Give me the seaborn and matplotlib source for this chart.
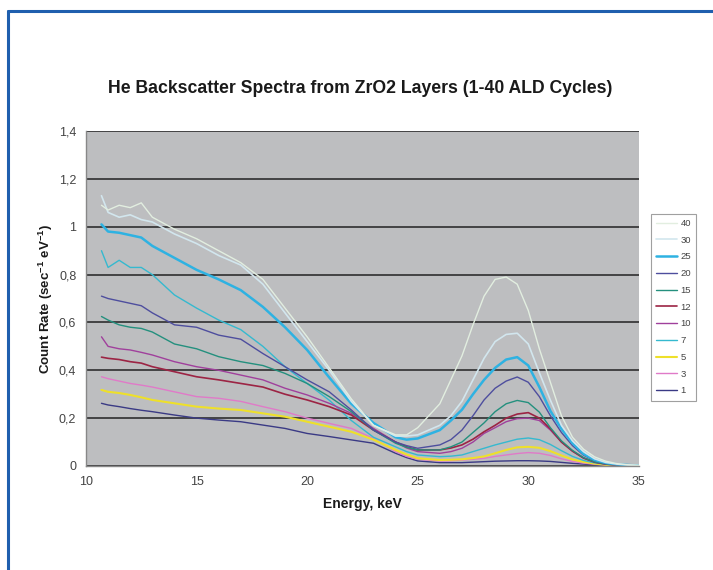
import matplotlib
matplotlib.use("Agg")
import matplotlib.pyplot as plt
from matplotlib.lines import Line2D
import numpy as np
import pandas as pd
import seaborn as sns

# ---------------- data ----------------
energy = [10.7, 11, 11.5, 12, 12.5, 13, 14, 15, 16, 17, 18, 19, 20, 21, 22, 23, 24,
          24.5, 25, 26, 26.5, 27, 27.5, 28, 28.5, 29, 29.5, 30, 30.5, 31, 31.5, 32,
          32.5, 33, 33.5, 34, 34.5, 35]

cycles = ["1", "3", "5", "7", "10", "12", "15", "20", "25", "30", "40"]

rate_1 = [0.262, 0.255, 0.248, 0.24, 0.233, 0.227, 0.213, 0.20, 0.192, 0.185, 0.171, 0.157,
          0.136, 0.123, 0.109, 0.095, 0.053, 0.035, 0.021, 0.014, 0.014, 0.014, 0.016, 0.018,
          0.02, 0.021, 0.022, 0.022, 0.021, 0.019, 0.015, 0.011, 0.008, 0.005, 0.003, 0.002,
          0.001, 0.001]
rate_3 = [0.373, 0.365, 0.355, 0.345, 0.338, 0.33, 0.31, 0.29, 0.283, 0.27, 0.248, 0.227,
          0.20, 0.178, 0.157, 0.115, 0.06, 0.04, 0.028, 0.021, 0.022, 0.025, 0.028, 0.032,
          0.04, 0.046, 0.052, 0.056, 0.053, 0.044, 0.03, 0.019, 0.012, 0.007, 0.004, 0.002,
          0.001, 0.001]
rate_5 = [0.318, 0.31, 0.305, 0.297, 0.287, 0.276, 0.262, 0.248, 0.24, 0.234, 0.22, 0.206,
          0.185, 0.164, 0.143, 0.11, 0.067, 0.048, 0.032, 0.025, 0.026, 0.028, 0.033, 0.04,
          0.053, 0.067, 0.078, 0.08, 0.076, 0.062, 0.044, 0.027, 0.017, 0.01, 0.005, 0.003,
          0.002, 0.001]
rate_7 = [0.90, 0.83, 0.86, 0.83, 0.83, 0.80, 0.715, 0.66, 0.61, 0.57, 0.50, 0.415,
          0.345, 0.275, 0.19, 0.12, 0.08, 0.06, 0.046, 0.039, 0.041, 0.046, 0.06, 0.074,
          0.088, 0.10, 0.112, 0.117, 0.11, 0.09, 0.064, 0.04, 0.023, 0.013, 0.007, 0.003,
          0.002, 0.001]
rate_10 = [0.54, 0.50, 0.49, 0.485, 0.475, 0.464, 0.436, 0.415, 0.40, 0.38, 0.36, 0.325,
           0.297, 0.262, 0.22, 0.157, 0.10, 0.075, 0.06, 0.053, 0.06, 0.074, 0.10, 0.136,
           0.16, 0.185, 0.198, 0.20, 0.19, 0.15, 0.10, 0.062, 0.033, 0.016, 0.008, 0.004,
           0.002, 0.001]
rate_12 = [0.455, 0.45, 0.445, 0.436, 0.43, 0.415, 0.394, 0.373, 0.36, 0.345, 0.33, 0.30,
           0.276, 0.248, 0.213, 0.15, 0.10, 0.08, 0.067, 0.067, 0.075, 0.088, 0.112, 0.143,
           0.17, 0.20, 0.217, 0.223, 0.20, 0.155, 0.10, 0.062, 0.033, 0.016, 0.008, 0.004,
           0.002, 0.001]
rate_15 = [0.625, 0.61, 0.59, 0.58, 0.575, 0.56, 0.51, 0.49, 0.457, 0.436, 0.42, 0.387,
           0.345, 0.29, 0.227, 0.15, 0.095, 0.078, 0.067, 0.067, 0.08, 0.10, 0.14, 0.18,
           0.227, 0.26, 0.274, 0.265, 0.225, 0.16, 0.105, 0.065, 0.035, 0.017, 0.009, 0.005,
           0.003, 0.002]
rate_20 = [0.71, 0.70, 0.69, 0.68, 0.67, 0.64, 0.59, 0.58, 0.547, 0.53, 0.47, 0.415,
           0.36, 0.31, 0.234, 0.15, 0.10, 0.085, 0.074, 0.088, 0.11, 0.15, 0.21, 0.276,
           0.325, 0.355, 0.372, 0.35, 0.29, 0.21, 0.14, 0.085, 0.045, 0.022, 0.011, 0.006,
           0.003, 0.002]
rate_25 = [1.01, 0.98, 0.975, 0.965, 0.955, 0.92, 0.87, 0.82, 0.78, 0.735, 0.665, 0.58,
           0.485, 0.37, 0.26, 0.18, 0.12, 0.11, 0.115, 0.15, 0.19, 0.235, 0.30, 0.36,
           0.41, 0.445, 0.455, 0.42, 0.33, 0.23, 0.155, 0.095, 0.05, 0.025, 0.013, 0.007,
           0.004, 0.002]
rate_30 = [1.13, 1.06, 1.04, 1.05, 1.03, 1.02, 0.97, 0.93, 0.88, 0.84, 0.76, 0.64,
           0.52, 0.40, 0.27, 0.17, 0.125, 0.125, 0.13, 0.17, 0.21, 0.27, 0.36, 0.45,
           0.52, 0.55, 0.555, 0.51, 0.39, 0.275, 0.17, 0.105, 0.06, 0.03, 0.015, 0.008,
           0.004, 0.002]
rate_40 = [1.09, 1.07, 1.09, 1.08, 1.10, 1.04, 0.99, 0.95, 0.90, 0.85, 0.78, 0.66,
           0.54, 0.41, 0.28, 0.17, 0.13, 0.13, 0.16, 0.26, 0.36, 0.46, 0.59, 0.71,
           0.78, 0.79, 0.76, 0.65, 0.49, 0.35, 0.21, 0.12, 0.07, 0.038, 0.02, 0.01,
           0.005, 0.003]

series = {"1": rate_1, "3": rate_3, "5": rate_5, "7": rate_7, "10": rate_10,
          "12": rate_12, "15": rate_15, "20": rate_20, "25": rate_25,
          "30": rate_30, "40": rate_40}

yticks = [0, 0.2, 0.4, 0.6, 0.8, 1.0, 1.2, 1.4]
ytick_labels = ["0", "0,2", "0,4", "0,6", "0,8", "1", "1,2", "1,4"]
xticks = [10, 15, 20, 25, 30, 35]
xtick_labels = ["10", "15", "20", "25", "30", "35"]

title = "He Backscatter Spectra from ZrO2 Layers (1-40 ALD Cycles)"
xlabel = "Energy, keV"
ylabel = r"Count Rate (sec$^{\mathbf{-1}}$ eV$^{\mathbf{-1}}$)"

# ---------------- styles ----------------
colors = {"1": "#3a3a85", "3": "#e07ac8", "5": "#eee02a", "7": "#35b9cf",
          "10": "#a0409c", "12": "#9c2444", "15": "#24907e", "20": "#4e4e9e",
          "25": "#2eb2e2", "30": "#d2e6ee", "40": "#e2eee0"}
widths = {"1": 1.0, "3": 1.0, "5": 1.5, "7": 1.0, "10": 1.0, "12": 1.2,
          "15": 1.0, "20": 1.0, "25": 1.8, "30": 1.2, "40": 1.0}

rows = []
for c in cycles:
    for e, v in zip(energy, series[c]):
        rows.append({"Energy": e, "Rate": v, "Cycles": c})
df = pd.DataFrame(rows)

sns.set_theme(style="white")
plt.rcParams["font.family"] = ["Liberation Sans", "DejaVu Sans"]
plt.rcParams["mathtext.fontset"] = "custom"
plt.rcParams["mathtext.rm"] = "Liberation Sans:bold"
plt.rcParams["mathtext.bf"] = "Liberation Sans:bold"

fig = plt.figure(figsize=(7.13, 5.70), dpi=100)
ax = fig.add_axes([0.1206, 0.1825, 0.7754, 0.5875])
ax.set_facecolor("#bdbec0")

for c in cycles:
    sub = df[df["Cycles"] == c]
    sns.lineplot(data=sub, x="Energy", y="Rate", ax=ax, color=colors[c],
                 linewidth=widths[c], legend=False)

ax.set_xlim(10, 35)
ax.set_ylim(0, 1.4)
ax.set_yticks(yticks)
ax.set_yticklabels(ytick_labels)
ax.set_xticks(xticks)
ax.set_xticklabels(xtick_labels)
ax.set_axisbelow(True)
ax.yaxis.grid(True, color="#3a3a3a", linewidth=1.3)
ax.xaxis.grid(False)
for s in ["top", "right"]:
    ax.spines[s].set_visible(False)
for s in ["left", "bottom"]:
    ax.spines[s].set_color("#888888")
    ax.spines[s].set_linewidth(1.0)
ax.tick_params(axis="both", direction="out", length=4, width=0.8, color="#888888",
               labelsize=9, labelcolor="#444444", pad=3)

ax.set_xlabel(xlabel, fontsize=10, fontweight="bold", color="#1a1a1a", labelpad=7)
ax.set_ylabel(ylabel, fontsize=9.6, fontweight="bold", color="#1a1a1a", labelpad=3)
fig.text(0.505, 0.845, title, ha="center", va="center", fontsize=12.7,
         fontweight="bold", color="#1a1a1a")

handles = [Line2D([0], [0], color=colors[c], lw=widths[c]) for c in reversed(cycles)]
labels = list(reversed(cycles))
leg = fig.legend(handles, labels, loc="upper left",
                 bbox_to_anchor=(646 / 713, 1 - 209 / 570), frameon=True,
                 fontsize=6.8, handlelength=2.2, handletextpad=0.4,
                 labelspacing=0.82, borderpad=0.55, fancybox=False,
                 labelcolor="#444444")
leg.get_frame().set_edgecolor("#888888")
leg.get_frame().set_linewidth(0.8)
leg.get_frame().set_facecolor("white")

# blue frame lines (top and left edges)
fig.add_artist(Line2D([7.5 / 713, 1.0], [1 - 11 / 570, 1 - 11 / 570],
                      transform=fig.transFigure, color="#1f5fae", lw=2.2))
fig.add_artist(Line2D([7.5 / 713, 7.5 / 713], [0, 1 - 11 / 570],
                      transform=fig.transFigure, color="#1f5fae", lw=2.2))

fig.savefig("out.png", dpi=100)
